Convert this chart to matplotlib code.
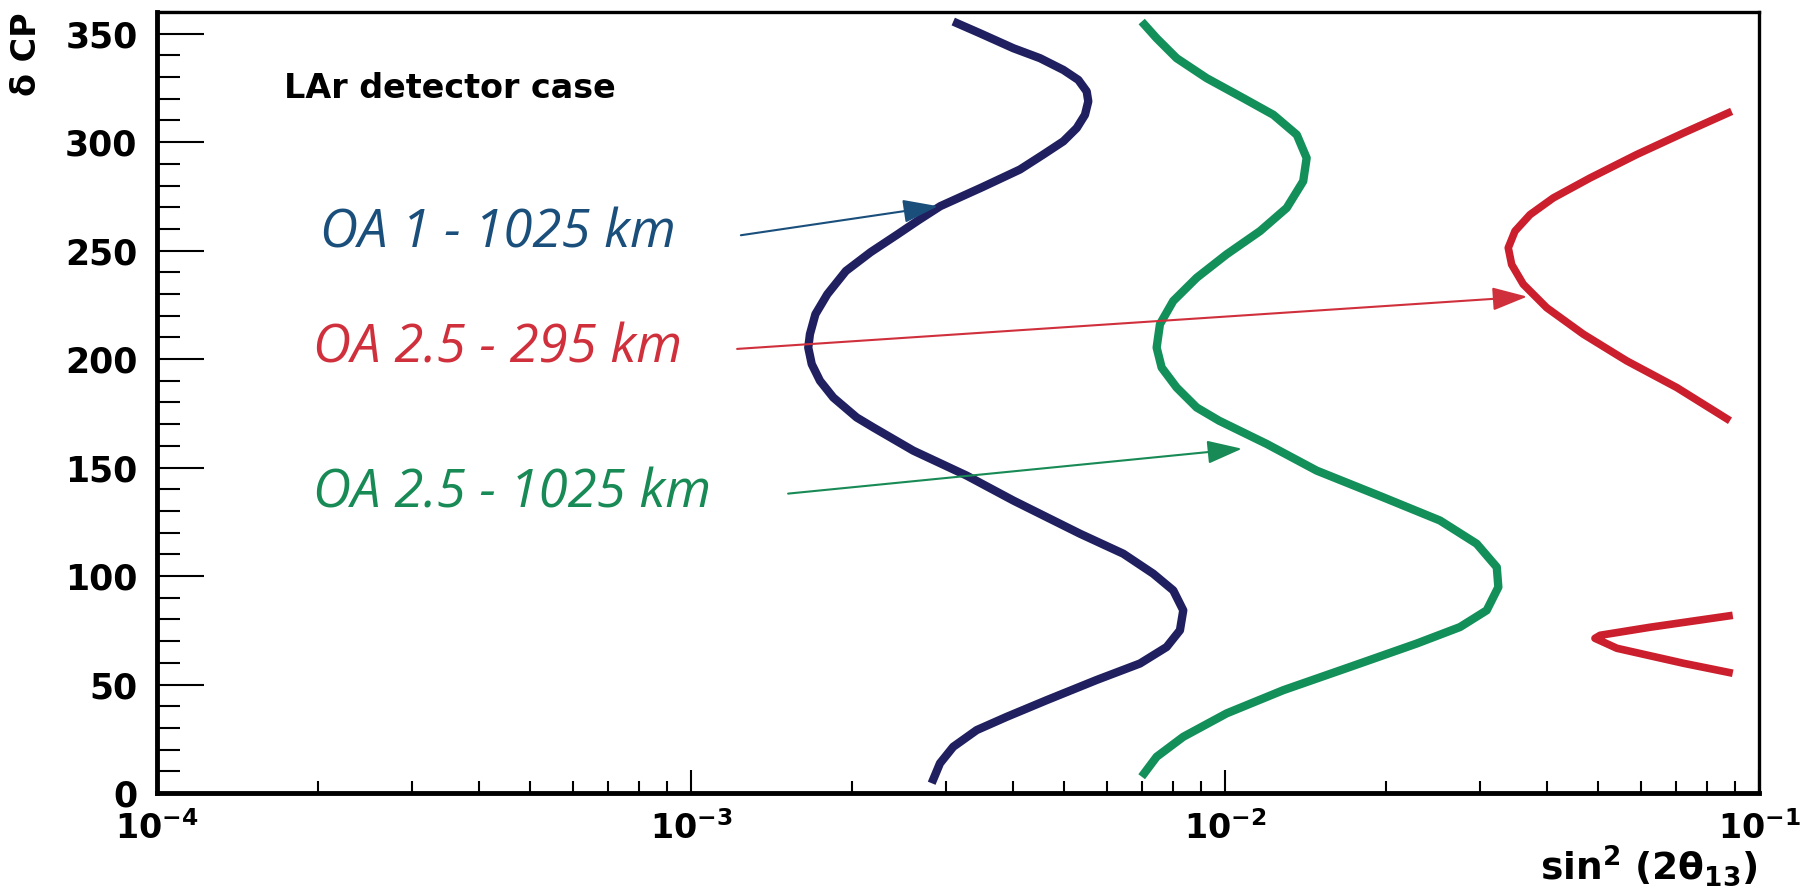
import numpy as np
import matplotlib
matplotlib.use("Agg")
import matplotlib.pyplot as plt
import matplotlib.ticker as ticker

# ---------------------------------------------------------------------------
# CP-violation sensitivity contours: delta_CP vs sin^2(2 theta_13)
# ---------------------------------------------------------------------------
OA1_1025_DCP = [355.6, 350.2, 343.3, 338.7, 333.3, 328.7, 323.4, 318.8, 312.6,
                306.5, 300.4, 294.3, 287.4, 279.2, 270.5, 264.1, 257.6, 249.3,
                240.6, 229.9, 220.7, 211.5, 205.3, 197.7, 190.0, 182.3, 173.1,
                168.5, 157.8, 146.3, 134.8, 119.5, 110.3, 101.1, 93.4, 84.2,
                75.0, 67.3, 59.7, 52.1, 42.8, 35.1, 29.0, 21.3, 13.7, 4.5]
OA1_1025_S2T = [3.098e-3, 3.477e-3, 4.015e-3, 4.505e-3, 4.981e-3, 5.313e-3,
                5.508e-3, 5.546e-3, 5.467e-3, 5.276e-3, 4.981e-3, 4.568e-3,
                4.131e-3, 3.508e-3, 2.930e-3, 2.670e-3, 2.440e-3, 2.170e-3,
                1.950e-3, 1.800e-3, 1.710e-3, 1.670e-3, 1.658e-3, 1.683e-3,
                1.744e-3, 1.847e-3, 2.043e-3, 2.195e-3, 2.608e-3, 3.283e-3,
                4.015e-3, 5.353e-3, 6.450e-3, 7.338e-3, 8.000e-3, 8.353e-3,
                8.234e-3, 7.775e-3, 6.932e-3, 5.749e-3, 4.636e-3, 3.901e-3,
                3.428e-3, 3.098e-3, 2.926e-3, 2.823e-3]

OA25_1025_DCP = [355.6, 347.9, 338.7, 329.5, 320.3, 312.6, 303.4, 292.7, 282.0,
                 269.7, 259.0, 248.3, 237.5, 226.8, 216.1, 205.3, 196.1, 186.9,
                 177.7, 171.6, 160.9, 148.6, 136.3, 125.6, 114.9, 104.1, 94.9,
                 84.2, 76.5, 68.9, 58.1, 47.4, 36.7, 25.9, 16.7, 7.5]
OA25_1025_S2T = [6.982e-3, 7.447e-3, 8.118e-3, 9.241e-3, 1.082e-2, 1.232e-2,
                 1.363e-2, 1.422e-2, 1.401e-2, 1.305e-2, 1.163e-2, 1.007e-2,
                 8.851e-3, 8.000e-3, 7.554e-3, 7.447e-3, 7.610e-3, 8.118e-3,
                 8.850e-3, 9.750e-3, 1.197e-2, 1.485e-2, 1.978e-2, 2.527e-2,
                 2.960e-2, 3.228e-2, 3.250e-2, 3.091e-2, 2.755e-2, 2.286e-2,
                 1.714e-2, 1.286e-2, 1.007e-2, 8.353e-3, 7.447e-3, 6.982e-3]

# the 295 km contour comes in two pieces
OA25_295_HI_DCP = [314.2, 304.2, 294.3, 283.5, 274.3, 266.6, 259.0, 251.3, 243.6,
                   234.5, 223.7, 211.5, 199.2, 186.9, 171.6]
OA25_295_HI_S2T = [8.889e-2, 7.215e-2, 5.902e-2, 4.827e-2, 4.119e-2, 3.726e-2,
                   3.492e-2, 3.392e-2, 3.442e-2, 3.619e-2, 4.003e-2, 4.688e-2,
                   5.652e-2, 7.014e-2, 8.824e-2]
OA25_295_LO_DCP = [81.9, 76.4, 72.7, 71.3, 66.7, 59.8, 55.2]
OA25_295_LO_S2T = [8.93e-2, 6.25e-2, 5.04e-2, 4.93e-2, 5.42e-2, 7.22e-2, 8.93e-2]

NAVY = "#202060"
GREEN = "#13905a"
RED = "#cc1f2e"

plt.rcParams["font.family"] = "DejaVu Sans"
plt.rcParams["font.weight"] = "bold"
plt.rcParams["mathtext.fontset"] = "dejavusans"
plt.rcParams["mathtext.default"] = "bf"

fig = plt.figure(figsize=(18.16, 8.91), dpi=100)
ax = fig.add_axes([157 / 1816, 98 / 891, 1602 / 1816, 781 / 891])

line_kw = dict(solid_capstyle="butt", solid_joinstyle="round", zorder=3)
ax.plot(OA1_1025_S2T, OA1_1025_DCP, color=NAVY, lw=6, **line_kw)
ax.plot(OA25_1025_S2T, OA25_1025_DCP, color=GREEN, lw=6, **line_kw)
ax.plot(OA25_295_HI_S2T, OA25_295_HI_DCP, color=RED, lw=5.5, **line_kw)
ax.plot(OA25_295_LO_S2T, OA25_295_LO_DCP, color=RED, lw=5.5, **line_kw)

ax.set_xscale("log")
ax.set_xlim(1e-4, 1e-1)
ax.set_ylim(0, 360)

# ROOT-like inward ticks, only on the left and bottom
ax.yaxis.set_major_locator(ticker.MultipleLocator(50))
ax.yaxis.set_minor_locator(ticker.MultipleLocator(10))
ax.xaxis.set_major_locator(ticker.LogLocator(base=10))
ax.xaxis.set_minor_locator(ticker.LogLocator(base=10, subs=np.arange(2, 10)))
ax.xaxis.set_minor_formatter(ticker.NullFormatter())
ax.xaxis.set_major_formatter(
    ticker.FuncFormatter(lambda v, _: r"$\mathbf{10^{%d}}$" % round(np.log10(v))))

ax.tick_params(axis="y", which="major", direction="in", length=34, width=1.5,
               pad=14, labelsize=25)
ax.tick_params(axis="y", which="minor", direction="in", length=16.5, width=1.5)
ax.tick_params(axis="x", which="major", direction="in", length=16.5, width=1.5,
               pad=13, labelsize=24)
ax.tick_params(axis="x", which="minor", direction="in", length=8.6, width=1.5)

for side in ("left", "bottom"):
    ax.spines[side].set_linewidth(3.5)
for side in ("top", "right"):
    ax.spines[side].set_linewidth(2.4)

fig.text(27 / 1816, 1 - 12 / 891, "δ CP", rotation=90, ha="center", va="top",
         fontsize=24, fontweight="bold")
fig.text(1758 / 1816, 1 - 866 / 891, r"$\mathbf{sin^2\ (2\theta_{13})}$",
         ha="right", va="center", fontsize=27)

ax.text(1.73e-4, 324.7, "LAr detector case", fontsize=24, fontweight="bold",
        ha="left", va="center")

# curve labels with pointer arrows
labels = [
    ("OA 1 - 1025 km", "#1a4f7c", (2.02e-4, 258), (1.24e-3, 257.1), (2.90e-3, 270.5)),
    ("OA 2.5 - 295 km", "#d0303c", (1.96e-4, 205), (1.22e-3, 204.7), (3.68e-2, 228.8)),
    ("OA 2.5 - 1025 km", "#188a55", (1.96e-4, 138), (1.52e-3, 138.0), (1.076e-2, 158.7)),
]
for text, col, pos, tail, tip in labels:
    ax.text(pos[0], pos[1], text, color=col, fontsize=38, fontstyle="italic",
            fontweight="normal", family=["Open Sans", "DejaVu Sans"],
            ha="left", va="center")
    ax.annotate("", xy=tip, xytext=tail,
                arrowprops=dict(arrowstyle="-|>,head_length=0.9,head_width=0.3",
                                color=col, lw=1.5, mutation_scale=24,
                                shrinkA=0, shrinkB=0), zorder=4)

fig.savefig("out.png", dpi=100, facecolor="white")
